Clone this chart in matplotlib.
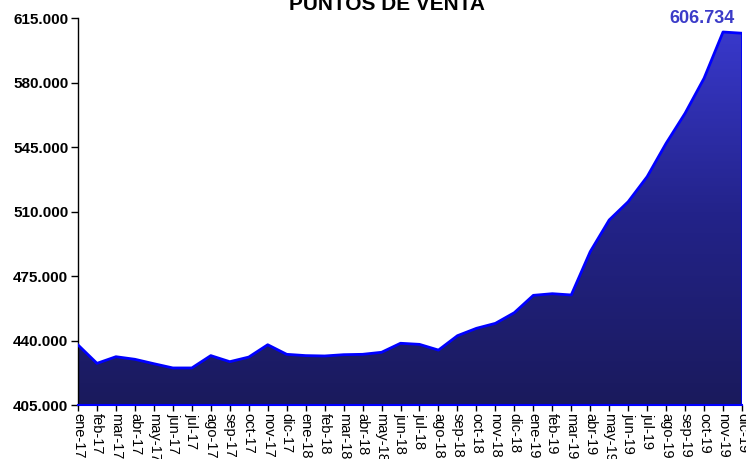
import matplotlib
matplotlib.use("Agg")
import matplotlib.pyplot as plt
import numpy as np
from matplotlib.colors import LinearSegmentedColormap
from matplotlib.patches import Polygon

months = ["ene-17","feb-17","mar-17","abr-17","may-17","jun-17","jul-17","ago-17","sep-17","oct-17","nov-17","dic-17",
          "ene-18","feb-18","mar-18","abr-18","may-18","jun-18","jul-18","ago-18","sep-18","oct-18","nov-18","dic-18",
          "ene-19","feb-19","mar-19","abr-19","may-19","jun-19","jul-19","ago-19","sep-19","oct-19","nov-19","dic-19"]
values = [437.6, 427.6, 431.2, 429.8, 427.4, 425.1, 425.1, 431.8, 428.5, 431.0, 437.7, 432.5,
          431.8, 431.6, 432.3, 432.5, 433.6, 438.5, 437.9, 434.8, 442.6, 446.6, 449.3, 455.1,
          464.5, 465.4, 464.7, 488.2, 505.4, 515.3, 528.9, 547.0, 563.3, 582.3, 607.4, 606.734]
yticks = [405, 440, 475, 510, 545, 580, 615]
last_label = "606.734"
title = "PUNTOS DE VENTA"

plt.rcParams['font.family'] = ['Liberation Sans', 'DejaVu Sans']

W, H = 746, 459
fig = plt.figure(figsize=(W/100, H/100), dpi=100)
ax = fig.add_axes([78/W, 1-405/H, (742-78)/W, (405-18)/H])

x = np.arange(len(values))
ymin, ymax = 405, 615
ax.set_xlim(0, len(values)-1)
ax.set_ylim(ymin, ymax)

cmap = LinearSegmentedColormap.from_list("g", ["#1a1a5c", "#23238a", "#3a3ad0"])
grad = np.linspace(0, 1, 256).reshape(-1, 1)
im = ax.imshow(grad, extent=[0, len(values)-1, ymin, ymax], origin='lower', aspect='auto', cmap=cmap, zorder=1)
verts = [(0, ymin)] + list(zip(x, values)) + [(len(values)-1, ymin)]
poly = Polygon(verts, closed=True, facecolor='none', edgecolor='none')
ax.add_patch(poly)
im.set_clip_path(poly)
ax.plot(x, values, color='#0000ff', lw=2, zorder=3, solid_joinstyle='round')
ax.plot([len(values)-1, len(values)-1], [values[-1], ymin], color='#0000ff', lw=2, zorder=3)
ax.plot([0, len(values)-1], [ymin, ymin], color='#0000ff', lw=1.5, zorder=3, clip_on=False)

for s in ['top', 'right']:
    ax.spines[s].set_visible(False)
ax.spines['left'].set_linewidth(1)
ax.spines['bottom'].set_visible(False)

ax.set_yticks(yticks)
ax.set_yticklabels([f"{v}.000" for v in yticks], fontsize=11, fontweight='bold')
ax.set_xticks(x)
ax.set_xticklabels(months, rotation=270, fontsize=10.5, ha='center', va='top')
ax.tick_params(axis='y', length=5, width=1, pad=2, direction='out')
ax.tick_params(axis='x', length=4, width=1, pad=2, direction='out')

fig.text(387/W, 1-10/H, title, ha='center', va='baseline', fontsize=15, fontweight='bold')
fig.text(735/W, 1-23/H, last_label, ha='right', va='baseline', fontsize=13, fontweight='bold', color='#3b3bc8')

fig.savefig("out.png", dpi=100)
